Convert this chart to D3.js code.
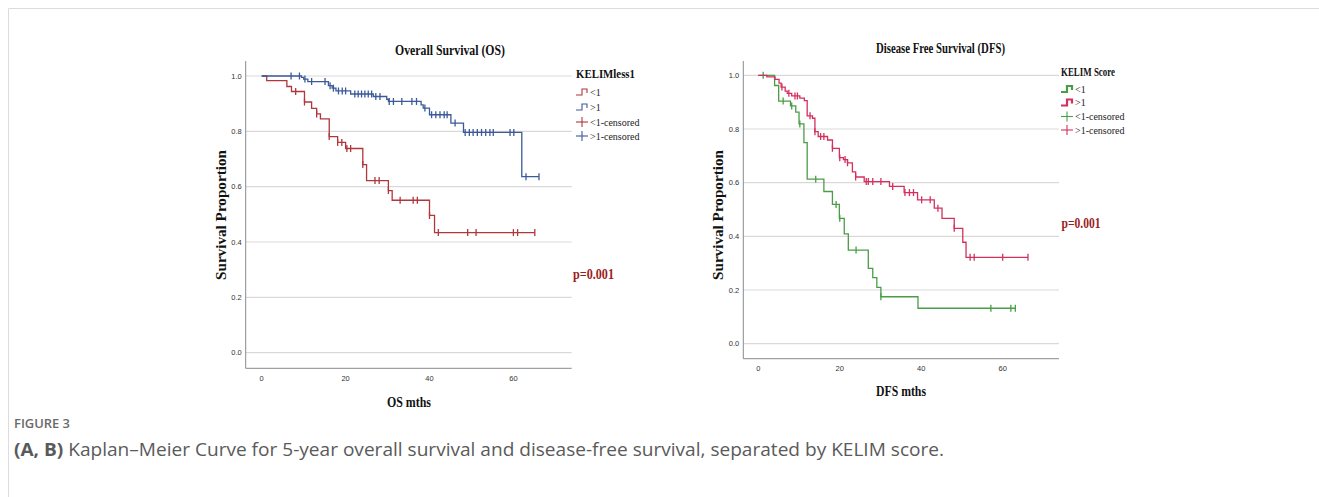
<!DOCTYPE html>
<html><head><meta charset="utf-8">
<script src="https://cdn.jsdelivr.net/npm/d3@7"></script>
<style>
html,body{margin:0;padding:0;background:#fff;}
svg{display:block;}
</style></head>
<body>
<svg id="c" width="1319" height="497"></svg>
<script>
// ---------- DATA ----------
const xTicks = [0, 20, 40, 60];
const yTicks = [0.0, 0.2, 0.4, 0.6, 0.8, 1.0];

// Overall survival, KELIM < 1
const osLowTimes = [0, 1.2, 6.0, 7.1, 10.2, 11.9, 13.1, 14.0, 16.1, 18.1, 20.0, 24.1, 25.0, 30.2, 31.1, 40.0, 41.2];
const osLowSurv  = [1.0, 0.983, 0.962, 0.944, 0.906, 0.883, 0.863, 0.845, 0.781, 0.760, 0.738, 0.680, 0.622, 0.586, 0.551, 0.496, 0.434];
const osLowEnd = 65.1;
const osLowCensored = [8.1, 10.2, 13.1, 16.1, 18.1, 19.1, 20.3, 21.2, 24.1, 27.0, 28.0, 30.2, 33.0, 36.1, 37.1, 40.0, 42.1, 49.1, 51.1, 60.0, 61.0, 65.1];

// Overall survival, KELIM > 1
const osHighTimes = [0, 9.5, 10.0, 11.0, 15.9, 16.8, 17.7, 21.2, 26.6, 29.8, 30.2, 38.0, 38.5, 40.0, 45.1, 48.1, 62.0];
const osHighSurv  = [1.0, 0.995, 0.989, 0.980, 0.965, 0.956, 0.946, 0.935, 0.926, 0.916, 0.908, 0.896, 0.884, 0.860, 0.830, 0.796, 0.636];
const osHighEnd = 66.1;
const osHighCensored = [7.0, 9.0, 10.3, 11.9, 15.1, 16.3, 17.1, 18.3, 19.2, 20.0, 22.2, 23.0, 23.8, 24.6, 25.4, 26.2, 27.2, 28.2, 30.4, 31.4, 33.4, 35.8, 36.9, 38.9, 40.5, 41.5, 42.5, 43.5, 44.2, 46.1, 48.5, 49.5, 50.4, 51.4, 52.4, 53.4, 54.4, 55.2, 59.2, 60.1, 63.0, 66.1];

// Disease free survival, KELIM < 1
const dfsLowTimes = [0, 4.0, 5.0, 7.9, 9.2, 10.0, 11.2, 12.0, 16.1, 18.2, 19.9, 21.1, 22.1, 27.0, 28.1, 29.1, 30.1, 39.2];
const dfsLowSurv  = [1.0, 0.962, 0.904, 0.886, 0.863, 0.819, 0.749, 0.613, 0.567, 0.519, 0.467, 0.409, 0.349, 0.281, 0.246, 0.210, 0.175, 0.132];
const dfsLowEnd = 63.1;
const dfsLowCensored = [1.2, 6.1, 8.2, 10.2, 14.1, 19.1, 20.0, 24.0, 30.1, 57.1, 62.0, 63.1];

// Disease free survival, KELIM > 1
const dfsHighTimes = [0, 2.1, 4.1, 5.1, 5.6, 6.6, 7.1, 8.2, 10.2, 11.3, 12.0, 13.3, 13.9, 14.7, 17.0, 18.2, 19.9, 20.9, 21.9, 23.1, 23.9, 26.0, 32.2, 35.8, 39.1, 43.2, 45.1, 48.1, 50.2, 51.0];
const dfsHighSurv  = [1.0, 0.994, 0.985, 0.971, 0.956, 0.941, 0.933, 0.923, 0.915, 0.906, 0.849, 0.840, 0.790, 0.772, 0.759, 0.728, 0.693, 0.686, 0.674, 0.640, 0.621, 0.604, 0.586, 0.563, 0.536, 0.505, 0.467, 0.430, 0.378, 0.322];
const dfsHighEnd = 66.2;
const dfsHighCensored = [5.8, 7.5, 9.0, 9.6, 12.7, 13.9, 15.3, 16.1, 18.2, 20.0, 21.3, 21.9, 23.9, 26.5, 27.0, 28.1, 30.1, 33.0, 36.0, 37.1, 38.1, 40.1, 42.2, 44.1, 48.1, 52.0, 53.0, 60.0, 66.2];

const legendLabels = ["<1", ">1", "<1-censored", ">1-censored"];

// ---------- DRAW ----------
const svg = d3.select("#c");
const serif = "'Liberation Serif','Times New Roman',serif";
const sans = "'Liberation Sans',Arial,sans-serif";

// figure frame
svg.append("path").attr("d", "M8.5,497 V8.5 H1319").attr("fill", "none").attr("stroke", "#dcdcdc").attr("stroke-width", 1);

function kmChart(o) {
  const g = svg.append("g");
  const x = d3.scaleLinear().domain([0, 60]).range(o.xRange);
  const y = d3.scaleLinear().domain([0, 1]).range(o.yRange);
  // gridlines
  g.selectAll(".grid").data(yTicks).join("line")
    .attr("x1", o.left).attr("x2", o.right)
    .attr("y1", d => y(d)).attr("y2", d => y(d))
    .attr("stroke", "#d9d9d9").attr("stroke-width", 1.2);
  // axis lines
  g.append("path").attr("d", `M${o.left},${o.top} V${o.bottom} H${o.right}`)
    .attr("fill", "none").attr("stroke", "#8a8a8a").attr("stroke-width", 1);
  // y tick labels
  g.selectAll(".yt").data(yTicks).join("text")
    .attr("x", o.left - 4).attr("y", d => y(d)).attr("dy", "0.35em")
    .attr("text-anchor", "end").attr("font-family", sans).attr("font-size", 7.5)
    .attr("fill", "#333").text(d3.format(".1f"));
  // x tick labels
  g.selectAll(".xt").data(xTicks).join("text")
    .attr("x", d => x(d)).attr("y", o.bottom + 10).attr("dy", "0.35em")
    .attr("text-anchor", "middle").attr("font-family", sans).attr("font-size", 7.5)
    .attr("fill", "#333").text(d => d);
  // title
  g.append("text").attr("x", o.titleX - o.titleW / 2).attr("y", o.titleY)
    .attr("font-family", serif).attr("font-weight", "bold").attr("font-size", 14)
    .attr("textLength", o.titleW).attr("lengthAdjust", "spacingAndGlyphs")
    .attr("fill", "#111").text(o.title);
  // y label
  g.append("text").attr("transform", `translate(${o.yLabX},${o.yLabY}) rotate(-90)`)
    .attr("x", -65).attr("font-family", serif).attr("font-weight", "bold").attr("font-size", 14)
    .attr("textLength", 130).attr("lengthAdjust", "spacingAndGlyphs")
    .attr("fill", "#111").text("Survival Proportion");
  // x label
  g.append("text").attr("x", o.xLabX - o.xLabW / 2).attr("y", o.xLabY)
    .attr("font-family", serif).attr("font-weight", "bold").attr("font-size", 15)
    .attr("textLength", o.xLabW).attr("lengthAdjust", "spacingAndGlyphs")
    .attr("fill", "#111").text(o.xLab);

  const line = d3.line().x(d => x(d[0])).y(d => y(d[1])).curve(d3.curveStepAfter);
  o.series.forEach(s => {
    const pts = s.times.map((t, i) => [t, s.surv[i]]);
    pts.push([s.end, s.surv[s.surv.length - 1]]);
    g.append("path").attr("d", line(pts)).attr("fill", "none")
      .attr("stroke", s.color).attr("stroke-width", 1.3);
    const valAt = t => { let v = s.surv[0]; s.times.forEach((tt, i) => { if (tt <= t + 1e-9) v = s.surv[i]; }); return v; };
    g.selectAll(null).data(s.censored).join("line")
      .attr("x1", d => x(d)).attr("x2", d => x(d))
      .attr("y1", d => y(valAt(d)) - 3.5).attr("y2", d => y(valAt(d)) + 3.5)
      .attr("stroke", s.color).attr("stroke-width", 1.3);
  });

  // legend
  const lg = g.append("g");
  lg.append("text").attr("x", o.legX).attr("y", o.legTitleY).attr("dy", "0.35em")
    .attr("font-family", serif).attr("font-weight", "bold").attr("font-size", 12)
    .attr("textLength", o.legTitleW).attr("lengthAdjust", "spacingAndGlyphs")
    .attr("fill", "#111").text(o.legTitle);
  legendLabels.forEach((lab, i) => {
    const yy = o.legYs[i];
    const col = o.series[i % 2].color;
    if (i < 2) {
      lg.append("path").attr("d", `M${o.legX},${yy + 3} H${o.legX + 6} V${yy - 3} H${o.legX + 11} V${yy + 1}`)
        .attr("fill", "none").attr("stroke", col).attr("stroke-width", o.iconW);
    } else {
      lg.append("line").attr("x1", o.legX).attr("x2", o.legX + 12).attr("y1", yy).attr("y2", yy)
        .attr("stroke", col).attr("stroke-width", 1.1);
      lg.append("line").attr("x1", o.legX + 6).attr("x2", o.legX + 6).attr("y1", yy - 5).attr("y2", yy + 5)
        .attr("stroke", col).attr("stroke-width", 1.1);
    }
    lg.append("text").attr("x", o.legX + 14).attr("y", yy).attr("dy", "0.35em")
      .attr("font-family", serif).attr("font-size", 10).attr("fill", "#222").text(lab);
  });
  // p value
  g.append("text").attr("x", o.pX).attr("y", o.pY).attr("dy", "0.35em")
    .attr("font-family", serif).attr("font-weight", "bold").attr("font-size", 15)
    .attr("textLength", o.pW).attr("lengthAdjust", "spacingAndGlyphs")
    .attr("fill", "#9b1c1c").text("p=0.001");
}

kmChart({
  xRange: [261.7, 513.4], yRange: [352.7, 76],
  left: 245.7, right: 571.7, top: 61, bottom: 368.3,
  title: "Overall Survival (OS)", titleX: 450, titleY: 55, titleW: 110,
  yLabX: 226, yLabY: 215,
  xLab: "OS mths", xLabX: 409, xLabY: 407, xLabW: 44,
  series: [
    {times: osLowTimes, surv: osLowSurv, end: osLowEnd, censored: osLowCensored, color: "#b0373b"},
    {times: osHighTimes, surv: osHighSurv, end: osHighEnd, censored: osHighCensored, color: "#3c5a98"}
  ],
  legX: 576, legTitle: "KELIMless1", legTitleY: 74, legTitleW: 59,
  legYs: [92, 107, 122, 136], iconW: 1.1,
  pX: 573, pY: 274, pW: 41
});

kmChart({
  xRange: [758.3, 1002.7], yRange: [343.7, 75.3],
  left: 743.3, right: 1059, top: 61, bottom: 358.7,
  title: "Disease Free Survival (DFS)", titleX: 940.5, titleY: 53, titleW: 129,
  yLabX: 723, yLabY: 215,
  xLab: "DFS mths", xLabX: 901, xLabY: 396, xLabW: 50,
  series: [
    {times: dfsLowTimes, surv: dfsLowSurv, end: dfsLowEnd, censored: dfsLowCensored, color: "#4a9d47"},
    {times: dfsHighTimes, surv: dfsHighSurv, end: dfsHighEnd, censored: dfsHighCensored, color: "#d4305e"}
  ],
  legX: 1061, legTitle: "KELIM Score", legTitleY: 71.5, legTitleW: 54,
  legYs: [89, 102.5, 116.5, 130], iconW: 2.2,
  pX: 1061.5, pY: 223, pW: 39
});

// caption
svg.append("text").attr("x", 14).attr("y", 428).attr("font-family", "'Open Sans',sans-serif")
  .attr("font-size", 12.5).attr("font-weight", 600).attr("fill", "#6a6a6a")
  .attr("textLength", 56).attr("lengthAdjust", "spacingAndGlyphs").text("FIGURE 3");
const cap = svg.append("text").attr("x", 14).attr("y", 456).attr("font-family", "'Open Sans',sans-serif")
  .attr("font-size", 17.5).attr("fill", "#5a5a5a")
  .attr("textLength", 930).attr("lengthAdjust", "spacingAndGlyphs");
cap.append("tspan").attr("font-weight", 700).text("(A, B)");
cap.append("tspan").text(" Kaplan–Meier Curve for 5-year overall survival and disease-free survival, separated by KELIM score.");
</script>
</body></html>
